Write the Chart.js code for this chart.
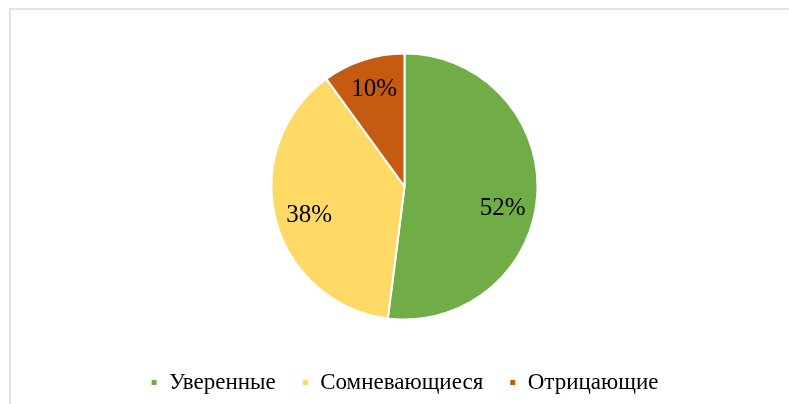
<!DOCTYPE html>
<html>
<head>
<meta charset="utf-8">
<script src="https://cdn.jsdelivr.net/npm/chart.js@4"></script>
<style>
    html, body { margin: 0; padding: 0; background: #fff; }
    #frame {
        position: absolute; left: 9px; top: 8px; width: 790px; height: 400px;
        border-top: 2px solid #e3e3e3; border-left: 2px solid #e3e3e3;
    }
    #wrap { position: absolute; left: 0; top: 0; width: 789px; height: 404px; }
</style>
</head>
<body>
<div id="frame"></div>
<div id="wrap"><canvas id="pieChart"></canvas></div>
<script>
const categories = ['Уверенные', 'Сомневающиеся', 'Отрицающие'];
const shares = [52, 38, 10];
const sliceColors = ['#70AD47', '#FFD966', '#C55A11'];

// percent labels inside the slices, placed along each arc's mid angle
// (the big slice's label sits a bit lower, like Excel's best fit)
const labelNudgeY = [16, 4, -3];
const sliceLabels = {
    id: 'sliceLabels',
    afterDatasetsDraw(chart) {
        const ctx = chart.ctx;
        const meta = chart.getDatasetMeta(0);
        ctx.save();
        ctx.font = '25px "Liberation Serif", "Times New Roman", serif';
        ctx.fillStyle = '#000';
        ctx.textAlign = 'center';
        ctx.textBaseline = 'middle';
        meta.data.forEach((arc, i) => {
            const mid = (arc.startAngle + arc.endAngle) / 2;
            const r = arc.outerRadius * 0.74;
            const x = arc.x + Math.cos(mid) * r;
            const y = arc.y + Math.sin(mid) * r + labelNudgeY[i];
            ctx.fillText(shares[i] + '%', x, y);
        });
        ctx.restore();
    }
};

const canvas = document.getElementById('pieChart');
new Chart(canvas.getContext('2d'), {
    type: 'pie',
    data: {
        labels: categories,
        datasets: [{
            data: shares,
            backgroundColor: sliceColors,
            borderColor: '#fff',
            borderWidth: 2,
            radius: 133
        }]
    },
    options: {
        responsive: true,
        maintainAspectRatio: false,
        animation: false,
        layout: { padding: { top: 28, bottom: 0, left: 20 } },
        plugins: {
            tooltip: { enabled: false },
            legend: {
                position: 'bottom',
                labels: {
                    boxWidth: 7,
                    boxHeight: 7,
                    padding: 26,
                    color: '#000',
                    font: { family: '"Liberation Serif", "Times New Roman", serif', size: 23 }
                }
            }
        }
    },
    plugins: [sliceLabels]
});
</script>
</body>
</html>
